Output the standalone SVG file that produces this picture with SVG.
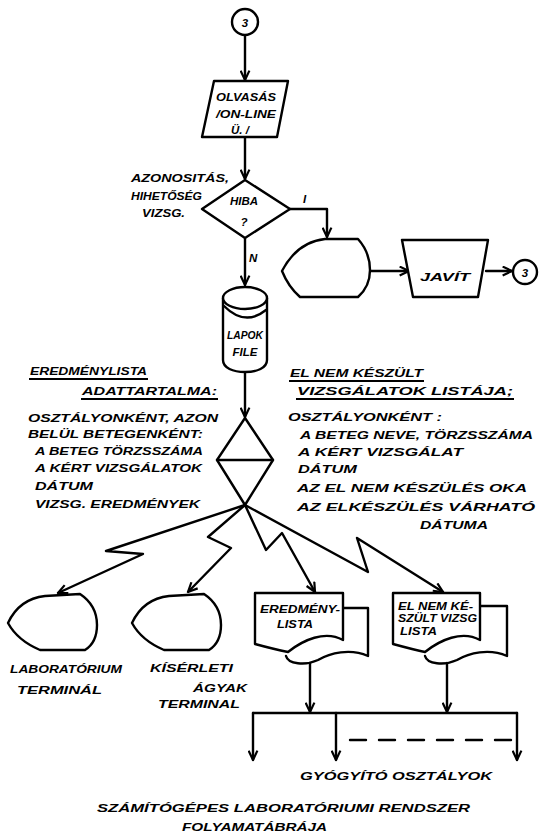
<svg xmlns="http://www.w3.org/2000/svg" width="539" height="837" viewBox="0 0 539 837">
<style>
.s{fill:none;stroke:#000;stroke-width:2.4;stroke-linejoin:round;stroke-linecap:round}
.w{fill:#fff;stroke:#000;stroke-width:2.4;stroke-linejoin:round}
.t{font-family:"Liberation Sans",Arial,sans-serif;font-weight:bold;font-style:italic;font-size:11.5px;fill:#000}
.u{stroke:#000;stroke-width:1.8}
</style>
<defs>
<marker id="a" viewBox="0 0 10 10" refX="9.5" refY="5" markerWidth="11" markerHeight="11" markerUnits="userSpaceOnUse" orient="auto">
<path d="M1,1 L9.5,5 L1,9" fill="none" stroke="#000" stroke-width="2"/>
</marker>
</defs>
<rect width="539" height="837" fill="#fff"/>

<g id="connectors">
<path class="s" d="M245,35 V80" marker-end="url(#a)"/>
<path class="s" d="M245,137 V179" marker-end="url(#a)"/>
<path class="s" d="M290,209 H327 V237" marker-end="url(#a)"/>
<path class="s" d="M245,238 V285" marker-end="url(#a)"/>
<path class="s" d="M370,271 H409" marker-end="url(#a)"/>
<path class="s" d="M486,271 H512" marker-end="url(#a)"/>
<path class="s" d="M245,372 V417" marker-end="url(#a)"/>
<path class="s" d="M245,505 L106,551 L143,554 L58,593" marker-end="url(#a)"/>
<path class="s" d="M245,505 L208,537 L231,548 L188,592" marker-end="url(#a)"/>
<path class="s" d="M245,505 L266,550 L282,533 L315,592" marker-end="url(#a)"/>
<path class="s" d="M245,505 L368,572 L357,538 L443,592" marker-end="url(#a)"/>
<path class="s" d="M310,663 V712" marker-end="url(#a)"/>
<path class="s" d="M447,663 V712" marker-end="url(#a)"/>
<path class="s" d="M253,713 H517"/>
<path class="s" d="M253,713 V760" marker-end="url(#a)"/>
<path class="s" d="M336,713 V760" marker-end="url(#a)"/>
<path class="s" d="M517,713 V760" marker-end="url(#a)"/>
<path class="s" d="M350,740 H512" stroke-dasharray="16,13"/>
<text class="t" x="303" y="203">I</text>
<text class="t" x="249" y="262">N</text>
</g>

<g id="start3">
<circle class="w" cx="245" cy="22" r="13"/>
<text class="t" x="245" y="27" text-anchor="middle" font-size="13">3</text>
</g>

<g id="olvasas">
<path class="w" d="M214,81 H288 L277,137 H202 Z"/>
<text class="t" x="246" y="101" text-anchor="middle" font-size="10" textLength="60" lengthAdjust="spacingAndGlyphs">OLVASÁS</text>
<text class="t" x="246" y="118" text-anchor="middle" font-size="10" textLength="60" lengthAdjust="spacingAndGlyphs">/ON-LINE</text>
<text class="t" x="240" y="134" text-anchor="middle" font-size="10">Ü. /</text>
</g>

<g id="hiba">
<path class="w" d="M245,180 L290,209 L245,238 L202,209 Z"/>
<text class="t" x="244" y="205" text-anchor="middle" font-size="9.5">HIBA</text>
<text class="t" x="244" y="226" text-anchor="middle" font-size="11">?</text>
<text class="t" x="131" y="182" textLength="98" lengthAdjust="spacingAndGlyphs">AZONOSITÁS,</text>
<text class="t" x="131" y="200" textLength="71" lengthAdjust="spacingAndGlyphs">HIHETŐSÉG</text>
<text class="t" x="142" y="217" textLength="43" lengthAdjust="spacingAndGlyphs">VIZSG.</text>
</g>

<g id="display1">
<path class="w" d="M282,271 C292,252 306,241 325,239 L358,239 C366,248 370,259 370,270 C370,281 366,290 358,297 L300,297 C292,290 286,281 282,271 Z"/>
</g>

<g id="javit">
<path class="w" d="M402,240 H488 L478,297 H413 Z"/>
<text class="t" x="445" y="281" text-anchor="middle" textLength="50" lengthAdjust="spacingAndGlyphs">JAVÍT</text>
</g>

<g id="end3">
<circle class="w" cx="525" cy="272" r="12"/>
<text class="t" x="525" y="277" text-anchor="middle" font-size="13">3</text>
</g>

<g id="lapokfile">
<path class="w" d="M223,298 V360 C223,368 233,372 245,372 C257,372 267,368 267,360 V298"/>
<ellipse class="w" cx="245" cy="298" rx="22" ry="11"/>
<path class="s" d="M224,306 Q245,327 266,310"/>
<text class="t" x="245" y="339" text-anchor="middle" font-size="9.5" textLength="36" lengthAdjust="spacingAndGlyphs">LAPOK</text>
<text class="t" x="245" y="356" text-anchor="middle" font-size="9.5">FILE</text>
</g>

<g id="sort">
<path class="w" d="M245,418 L273,460 L245,505 L217,460 Z"/>
<path class="s" d="M217,460 H273"/>
</g>

<g id="eredmenylista-text">
<text class="t" x="30" y="375" textLength="117" lengthAdjust="spacingAndGlyphs">EREDMÉNYLISTA</text>
<line class="u" x1="29" y1="379" x2="148" y2="379"/>
<text class="t" x="82" y="395" textLength="135" lengthAdjust="spacingAndGlyphs">ADATTARTALMA:</text>
<line class="u" x1="81" y1="399" x2="218" y2="399"/>
<text class="t" x="28" y="422" textLength="190" lengthAdjust="spacingAndGlyphs">OSZTÁLYONKÉNT,  AZON</text>
<text class="t" x="28" y="438" textLength="175" lengthAdjust="spacingAndGlyphs">BELÜL BETEGENKÉNT:</text>
<text class="t" x="35" y="455" textLength="168" lengthAdjust="spacingAndGlyphs">A BETEG TÖRZSSZÁMA</text>
<text class="t" x="35" y="472" textLength="167" lengthAdjust="spacingAndGlyphs">A KÉRT VIZSGÁLATOK</text>
<text class="t" x="35" y="490" textLength="58" lengthAdjust="spacingAndGlyphs">DÁTUM</text>
<text class="t" x="35" y="508" textLength="165" lengthAdjust="spacingAndGlyphs">VIZSG. EREDMÉNYEK</text>
</g>

<g id="elnem-text">
<text class="t" x="290" y="377" textLength="133" lengthAdjust="spacingAndGlyphs">EL NEM KÉSZÜLT</text>
<line class="u" x1="289" y1="381" x2="424" y2="381"/>
<text class="t" x="297" y="395" textLength="216" lengthAdjust="spacingAndGlyphs">VIZSGÁLATOK LISTÁJA;</text>
<line class="u" x1="296" y1="399" x2="514" y2="399"/>
<text class="t" x="288" y="421" textLength="154" lengthAdjust="spacingAndGlyphs">OSZTÁLYONKÉNT :</text>
<text class="t" x="300" y="439" textLength="233" lengthAdjust="spacingAndGlyphs">A BETEG NEVE, TÖRZSSZÁMA</text>
<text class="t" x="298" y="456" textLength="165" lengthAdjust="spacingAndGlyphs">A KÉRT VIZSGÁLAT</text>
<text class="t" x="298" y="473" textLength="59" lengthAdjust="spacingAndGlyphs">DÁTUM</text>
<text class="t" x="297" y="492" textLength="230" lengthAdjust="spacingAndGlyphs">AZ EL NEM KÉSZÜLÉS OKA</text>
<text class="t" x="297" y="511" textLength="238" lengthAdjust="spacingAndGlyphs">AZ ELKÉSZÜLÉS  VÁRHATÓ</text>
<text class="t" x="420" y="529" textLength="68" lengthAdjust="spacingAndGlyphs">DÁTUMA</text>
</g>

<g id="lab-terminal">
<path class="w" d="M8,623 C15,608 27,598 45,596 L80,594 C92,602 97,612 97,625 C97,637 93,645 85,650 L40,650 C26,644 14,634 8,623 Z"/>
<text class="t" x="10" y="673" textLength="112" lengthAdjust="spacingAndGlyphs">LABORATÓRIUM</text>
<text class="t" x="17" y="694" textLength="85" lengthAdjust="spacingAndGlyphs">TERMINÁL</text>
</g>

<g id="kiserleti-terminal">
<path class="w" d="M132,623 C139,608 151,598 169,596 L204,594 C216,602 221,612 221,625 C221,637 217,645 209,650 L164,650 C150,644 138,634 132,623 Z"/>
<text class="t" x="150" y="672" textLength="83" lengthAdjust="spacingAndGlyphs">KÍSÉRLETI</text>
<text class="t" x="193" y="692" textLength="54" lengthAdjust="spacingAndGlyphs">ÁGYAK</text>
<text class="t" x="158" y="708" textLength="82" lengthAdjust="spacingAndGlyphs">TERMINAL</text>
</g>

<g id="eredmenylista-doc">
<path class="s" d="M343,608 H368 V656 C350,648 330,653 318,660 C305,666 288,664 286,656"/>
<path class="w" d="M255,593 H343 V640 C325,630 303,640 288,652 C278,650 266,647 255,644 Z"/>
<text class="t" x="260" y="613" font-size="10" textLength="80" lengthAdjust="spacingAndGlyphs">EREDMÉNY-</text>
<text class="t" x="277" y="628" font-size="10" textLength="36" lengthAdjust="spacingAndGlyphs">LISTA</text>
</g>

<g id="elnem-doc">
<path class="s" d="M480,606 H507 V656 C489,648 469,653 457,660 C444,666 427,664 425,656"/>
<path class="w" d="M393,593 H480 V640 C462,630 440,640 425,652 C415,650 404,647 393,644 Z"/>
<text class="t" x="398" y="610" font-size="9.5" textLength="75" lengthAdjust="spacingAndGlyphs">EL NEM KÉ-</text>
<text class="t" x="398" y="622" font-size="9.5" textLength="79" lengthAdjust="spacingAndGlyphs">SZÜLT VIZSG</text>
<text class="t" x="400" y="635" font-size="9.5" textLength="37" lengthAdjust="spacingAndGlyphs">LISTA</text>
</g>

<g id="gyogyito">
<text class="t" x="300" y="780" textLength="192" lengthAdjust="spacingAndGlyphs">GYÓGYÍTÓ  OSZTÁLYOK</text>
</g>

<g id="caption">
<text class="t" x="97" y="812" textLength="373" lengthAdjust="spacingAndGlyphs">SZÁMÍTÓGÉPES  LABORATÓRIUMI  RENDSZER</text>
<text class="t" x="182" y="831" textLength="145" lengthAdjust="spacingAndGlyphs">FOLYAMATÁBRÁJA</text>
</g>
</svg>
